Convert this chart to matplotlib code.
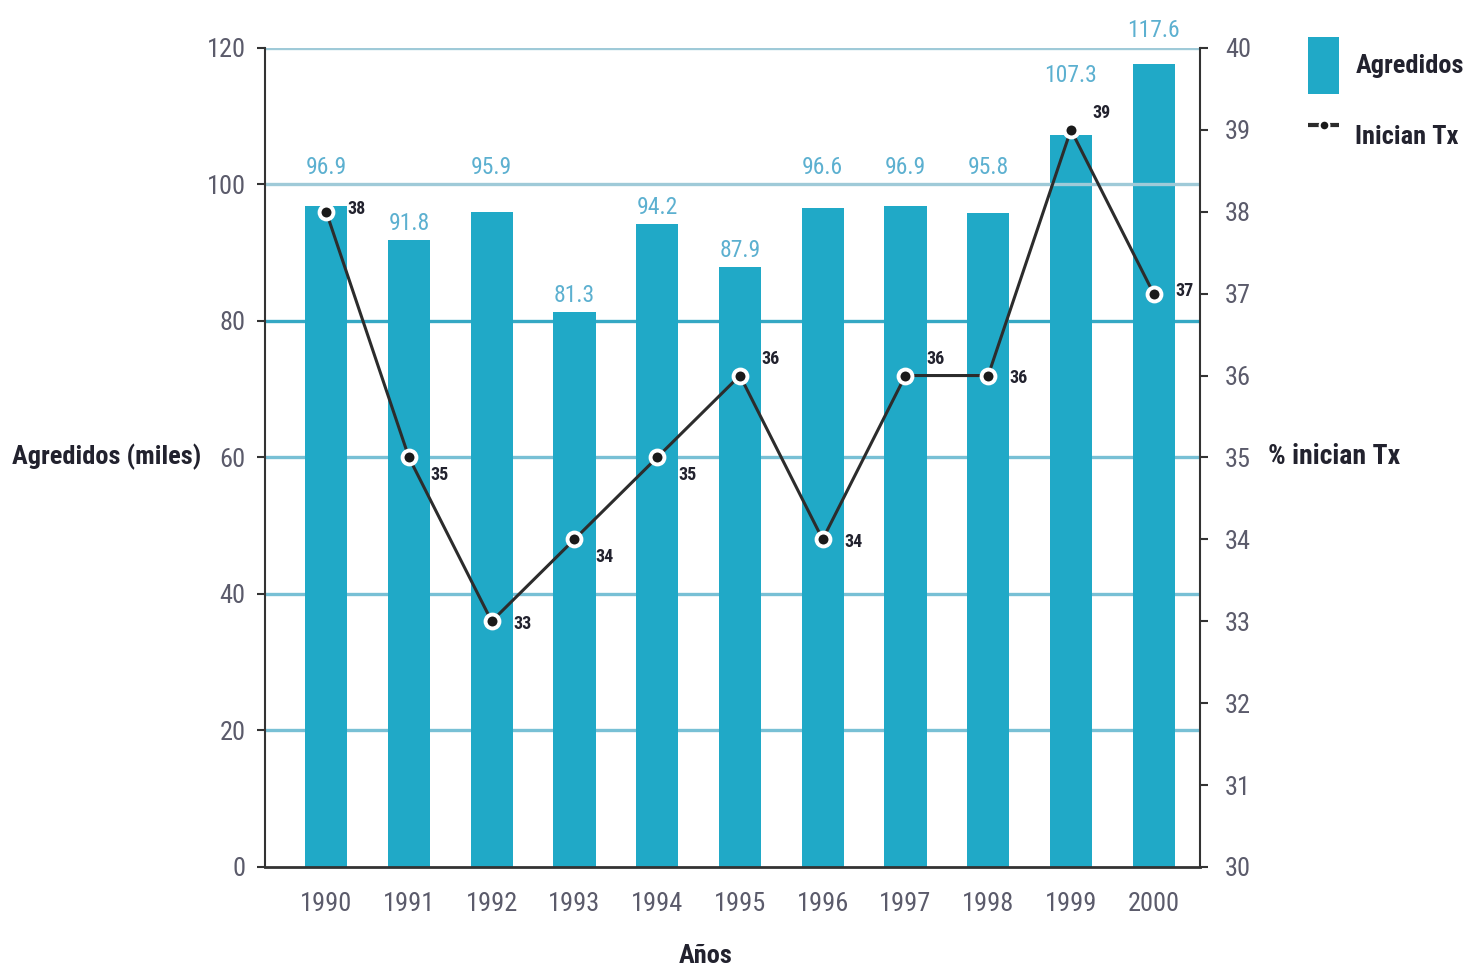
import matplotlib
matplotlib.use("Agg")
import matplotlib.pyplot as plt
import matplotlib.font_manager as fm
from matplotlib.patches import Patch
from matplotlib.lines import Line2D
import numpy as np

# Datos
anios = ["1990", "1991", "1992", "1993", "1994", "1995",
         "1996", "1997", "1998", "1999", "2000"]
agredidos = [96.9, 91.8, 95.9, 81.3, 94.2, 87.9, 96.6, 96.9, 95.8, 107.3, 117.6]
inician_tx = [38, 35, 33, 34, 35, 36, 34, 36, 36, 39, 37]

# Colores
TEAL = "#20a9c7"
LABEL_TEAL = "#5cb0d0"
TICK_GRAY = "#5b5b6b"
DARK = "#22222e"

# Fuente estrecha si hay alguna disponible
STRETCH = "normal"
FAMILY = "DejaVu Sans"
installed = {(f.name, f.stretch) for f in fm.fontManager.ttflist}
names = {n for n, _ in installed}
for cand in ["Liberation Sans Narrow", "Roboto Condensed", "Open Sans Condensed",
             "Noto Sans Condensed", "DejaVu Sans Condensed"]:
    if cand in names:
        FAMILY = cand
        break
else:
    for fam in ["DejaVu Sans", "Noto Sans", "Open Sans", "Roboto", "Inter"]:
        if any(n == fam and s in ("condensed", "semi-condensed", 75, 87)
               for n, s in installed):
            FAMILY = fam
            STRETCH = "condensed"
            break

plt.rcParams["font.family"] = [FAMILY, "DejaVu Sans"]
plt.rcParams["font.stretch"] = STRETCH

fig = plt.figure(figsize=(14.76, 9.74), dpi=100)
ax = fig.add_axes([0.1795, 0.1099, 0.6335, 0.8409])
ax2 = ax.twinx()

x = np.arange(len(anios))

# Líneas horizontales de referencia
grid_colors = {20: "#78c0d5", 40: "#78c0d5", 60: "#78c0d5",
               80: "#35a8c4", 100: "#9fcad8", 120: "#9fcad8"}
for yv, c in grid_colors.items():
    z = 3 if yv >= 100 else 0
    ax.axhline(yv, color=c, lw=2.4, zorder=z)

ax.bar(x, agredidos, width=0.51, color=TEAL, zorder=2)

# Etiquetas de valor sobre cada barra
pct_in_left = [(p - 30) * 12 for p in inician_tx]
for i, v in enumerate(agredidos):
    ybot = v + 0.8
    top_grid = (int(v // 20) + 1) * 20
    if ybot < top_grid < ybot + 4:
        ybot = top_grid + 0.8
    elif abs(pct_in_left[i] - v) < 4:
        ybot = v + 7
    ax.text(i, ybot, f"{v:.1f}", ha="center", va="bottom",
            fontsize=17, color=LABEL_TEAL, zorder=4)

ax.set_xlim(-0.74, 10.56)
ax.set_ylim(0, 120)
ax.set_yticks(range(0, 121, 20))
ax.set_xticks(x)
ax.set_xticklabels(anios)
ax.tick_params(axis="x", length=0, pad=18, labelsize=19, labelcolor=TICK_GRAY)
ax.tick_params(axis="y", direction="out", length=6, width=1.5, pad=8,
               labelsize=19, labelcolor=TICK_GRAY, color="#333333")

for s in ["top", "right"]:
    ax.spines[s].set_visible(False)
ax.spines["left"].set_color("#333333")
ax.spines["left"].set_linewidth(1.5)
ax.spines["bottom"].set_color("#333333")
ax.spines["bottom"].set_linewidth(2)
ax.spines["left"].set_zorder(5)

# Eje derecho: % que inician tratamiento
ax2.plot(x, inician_tx, color="#2c2c2c", lw=2.2, marker="o", markersize=10,
         markerfacecolor="#1a1a1a", markeredgecolor="white",
         markeredgewidth=2.8, zorder=5)
for i, p in enumerate(inician_tx):
    prev_p = inician_tx[i - 1] if i > 0 else None
    next_p = inician_tx[i + 1] if i < len(inician_tx) - 1 else None
    if prev_p is None or next_p is None:
        dy = 2
    elif p >= prev_p and p >= next_p:
        dy = 12
    elif (prev_p - p) * (p - next_p) > 0:
        dy = -13
    else:
        dy = -2
    ax2.annotate(str(p), (i, p), xytext=(22, dy), textcoords="offset points",
                 ha="center", va="center", fontsize=13, fontweight="bold",
                 color=DARK)

ax2.set_ylim(30, 40)
ax2.set_yticks(range(30, 41))
ax2.tick_params(axis="y", direction="out", length=6, width=1.5, pad=12,
                labelsize=19, labelcolor=TICK_GRAY, color="#333333")
for s in ["top", "left", "bottom"]:
    ax2.spines[s].set_visible(False)
ax2.spines["right"].set_color("#333333")
ax2.spines["right"].set_linewidth(1.5)
ax2.set_zorder(ax.get_zorder() + 1)
ax2.patch.set_visible(False)

# Títulos de ejes
fig.text(0.072, 0.531, "Agredidos (miles)", ha="center", va="center",
         fontsize=19, fontweight="bold", color=DARK)
fig.text(0.859, 0.531, "% inician Tx", ha="left", va="center",
         fontsize=20, fontweight="bold", color=DARK)
fig.text(0.478, 0.018, "Años", ha="center", va="center",
         fontsize=19, fontweight="bold", color=DARK)

# Leyenda
handles = [
    Patch(facecolor=TEAL, edgecolor="none", label="Agredidos"),
    Line2D([0], [0], color="#2c2c2c", lw=3, ls="--", marker="o",
           markersize=7, markerfacecolor="#1a1a1a",
           markeredgecolor="white", markeredgewidth=1.5, label="Inician Tx"),
]
leg = fig.legend(handles=handles, loc="upper left",
                 bbox_to_anchor=(0.886, 0.962), frameon=False,
                 handlelength=1.2, handleheight=2.95, labelspacing=0.5,
                 handletextpad=0.6, borderaxespad=0, borderpad=0,
                 prop={"size": 19, "weight": "bold"})
for t in leg.get_texts():
    t.set_color(DARK)

fig.savefig("out.png", dpi=100)
